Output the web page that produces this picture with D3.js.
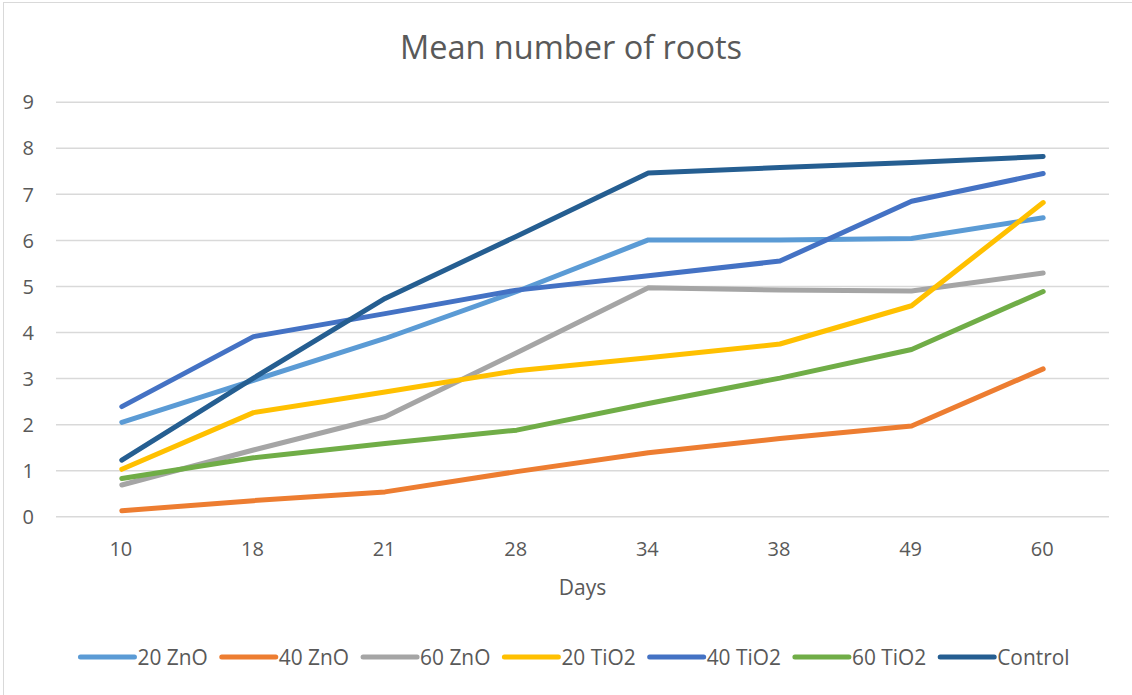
<!DOCTYPE html>
<html>
<head>
<meta charset="utf-8">
<script src="https://cdn.jsdelivr.net/npm/d3@7"></script>
<style>
  html, body { margin: 0; padding: 0; background: #fff; }
  svg { display: block; }
  text { font-family: "Open Sans", "DejaVu Sans", sans-serif; fill: #595959; }
</style>
</head>
<body>
<svg id="chart" width="1132" height="695"></svg>
<script>
// Sampling days (category axis)
const days = ["10", "18", "21", "28", "34", "38", "49", "60"];

// Mean number of roots per treatment
const zno20   = [2.04, 2.95, 3.86, 4.88, 6.00, 6.00, 6.03, 6.48];
const zno40   = [0.12, 0.34, 0.53, 0.97, 1.38, 1.69, 1.96, 3.20];
const zno60   = [0.68, 1.44, 2.16, 3.55, 4.96, 4.91, 4.89, 5.28];
const tio2_20 = [1.02, 2.25, 2.70, 3.16, 3.44, 3.74, 4.57, 6.81];
const tio2_40 = [2.38, 3.90, 4.40, 4.91, 5.22, 5.54, 6.84, 7.44];
const tio2_60 = [0.82, 1.27, 1.58, 1.87, 2.45, 3.00, 3.62, 4.88];
const control = [1.22, 3.00, 4.73, 6.08, 7.45, 7.57, 7.68, 7.81];

const seriesNames = ["20 ZnO", "40 ZnO", "60 ZnO", "20 TiO2", "40 TiO2", "60 TiO2", "Control"];
const seriesValues = [zno20, zno40, zno60, tio2_20, tio2_40, tio2_60, control];
const seriesColors = ["#5B9BD5", "#ED7D31", "#A5A5A5", "#FFC000", "#4472C4", "#70AD47", "#255E91"];

const yTicks = [0, 1, 2, 3, 4, 5, 6, 7, 8, 9];

const svg = d3.select("#chart");
const W = 1132, H = 695;
const plot = { left: 56, right: 1109, top: 101.7, bottom: 516.3 };

// chart frame
svg.append("rect")
  .attr("x", 3.5).attr("y", 2.5)
  .attr("width", W + 10).attr("height", H + 10)
  .attr("fill", "#fff").attr("stroke", "#d9d9d9").attr("stroke-width", 1);

const x = d3.scalePoint().domain(days).range([plot.left, plot.right]).padding(0.5);
const y = d3.scaleLinear().domain([0, 9]).range([plot.bottom, plot.top]);

// horizontal gridlines
const yAxis = d3.axisLeft(y).tickValues(yTicks).tickSize(-(plot.right - plot.left)).tickPadding(20);
const gy = svg.append("g").attr("transform", `translate(${plot.left},0)`).call(yAxis);
gy.select(".domain").remove();
gy.selectAll(".tick line").attr("stroke", "#d9d9d9").attr("stroke-width", 1.5);
gy.selectAll(".tick text")
  .attr("x", -22)
  .style("font-size", "20px").style("fill", "#595959")
  .attr("dy", "0.36em");

// category labels
const xAxis = d3.axisBottom(x).tickSize(0).tickPadding(0);
const gx = svg.append("g").attr("transform", `translate(0,${plot.bottom})`).call(xAxis);
gx.select(".domain").remove();
gx.selectAll(".tick text")
  .attr("x", -1.5)
  .attr("y", 33).attr("dy", "0.36em")
  .style("font-size", "20px").style("fill", "#595959");

// series lines
const line = d3.line().x((d, i) => x(days[i])).y(d => y(d));
svg.append("g").selectAll("path")
  .data(seriesValues)
  .join("path")
  .attr("d", d => line(d))
  .attr("fill", "none")
  .attr("stroke", (d, i) => seriesColors[i])
  .attr("stroke-width", 5)
  .attr("stroke-linejoin", "round")
  .attr("stroke-linecap", "round");

// title
svg.append("text")
  .attr("x", 571).attr("y", 47).attr("dy", "0.36em")
  .attr("text-anchor", "middle")
  .style("font-size", "32.5px")
  .text("Mean number of roots");

// axis title
svg.append("text")
  .attr("x", (plot.left + plot.right) / 2).attr("y", 587).attr("dy", "0.36em")
  .attr("text-anchor", "middle")
  .style("font-size", "21px")
  .text("Days");

// legend
const legend = svg.append("g");
const swatchW = 54, textGap = 3, itemGap = 14, sx = 0.95;
const items = legend.selectAll("g").data(seriesNames).join("g");
items.append("line")
  .attr("x1", 0).attr("x2", swatchW).attr("y1", 0).attr("y2", 0)
  .attr("stroke", (d, i) => seriesColors[i])
  .attr("stroke-width", 5).attr("stroke-linecap", "round");
items.append("text")
  .attr("transform", `translate(${swatchW + textGap},0) scale(${sx},1)`)
  .attr("dy", "0.36em")
  .style("font-size", "22px")
  .text(d => d);
let widths = [];
items.each(function() {
  const t = d3.select(this).select("text").node();
  widths.push(swatchW + textGap + t.getComputedTextLength() * sx);
});
const total = d3.sum(widths) + itemGap * (widths.length - 1);
let cx = 575 - total / 2;
items.attr("transform", (d, i) => {
  const tx = cx;
  cx += widths[i] + itemGap;
  return `translate(${tx},657)`;
});
</script>
</body>
</html>
